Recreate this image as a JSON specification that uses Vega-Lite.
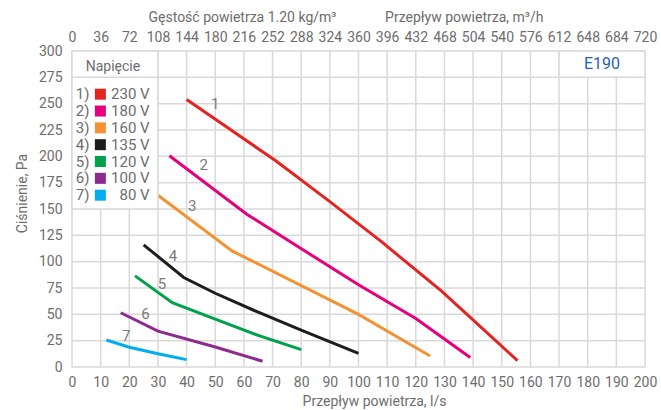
{
  "$schema": "https://vega.github.io/schema/vega-lite/v6.json",
  "width": 573,
  "height": 316,
  "autosize": "none",
  "padding": {"left": 72, "top": 51, "right": 16, "bottom": 43},
  "config": {
    "font": "Roboto",
    "view": {"stroke": "#d9d9d9", "strokeWidth": 1.5},
    "axis": {
      "domain": false,
      "grid": false,
      "ticks": false,
      "labelFont": "Roboto",
      "labelFontSize": 14,
      "labelColor": "#6d6d6d",
      "labelOverlap": false,
      "labelFlush": false,
      "titleFont": "Roboto",
      "titleFontSize": 14,
      "titleFontWeight": "normal",
      "titleColor": "#6d6d6d"
    }
  },
  "datasets": {
    "gridV": [
      {"v": 10}, {"v": 20}, {"v": 30}, {"v": 40}, {"v": 50}, {"v": 60}, {"v": 70}, {"v": 80}, {"v": 90}, {"v": 100},
      {"v": 110}, {"v": 120}, {"v": 130}, {"v": 140}, {"v": 150}, {"v": 160}, {"v": 170}, {"v": 180}, {"v": 190}
    ],
    "gridH": [
      {"p": 25}, {"p": 50}, {"p": 75}, {"p": 100}, {"p": 125}, {"p": 150}, {"p": 175}, {"p": 200}, {"p": 225}, {"p": 250}, {"p": 275}
    ],
    "curves": [
      {"s": "1", "v": 40, "p": 254}, {"s": "1", "v": 71, "p": 196}, {"s": "1", "v": 90, "p": 157}, {"s": "1", "v": 108, "p": 119}, {"s": "1", "v": 129, "p": 72}, {"s": "1", "v": 155.5, "p": 6},
      {"s": "2", "v": 34, "p": 200.5}, {"s": "2", "v": 61, "p": 145}, {"s": "2", "v": 100, "p": 78}, {"s": "2", "v": 120, "p": 46}, {"s": "2", "v": 139, "p": 9},
      {"s": "3", "v": 30, "p": 163}, {"s": "3", "v": 56, "p": 110}, {"s": "3", "v": 100, "p": 50}, {"s": "3", "v": 125, "p": 10.5},
      {"s": "4", "v": 25, "p": 116}, {"s": "4", "v": 39, "p": 85}, {"s": "4", "v": 50, "p": 70}, {"s": "4", "v": 65, "p": 52}, {"s": "4", "v": 80, "p": 35}, {"s": "4", "v": 100, "p": 13},
      {"s": "5", "v": 22, "p": 86.5}, {"s": "5", "v": 35, "p": 61}, {"s": "5", "v": 50, "p": 45.5}, {"s": "5", "v": 65, "p": 30}, {"s": "5", "v": 80, "p": 16.5},
      {"s": "6", "v": 17, "p": 51.5}, {"s": "6", "v": 30, "p": 34}, {"s": "6", "v": 50, "p": 19}, {"s": "6", "v": 66.5, "p": 5.5},
      {"s": "7", "v": 12, "p": 25.6}, {"s": "7", "v": 20, "p": 18.8}, {"s": "7", "v": 30, "p": 12.5}, {"s": "7", "v": 40, "p": 7}
    ],
    "curveLabels": [
      {"s": "1", "v": 50, "p": 250},
      {"s": "2", "v": 46, "p": 191.5},
      {"s": "3", "v": 42, "p": 153},
      {"s": "4", "v": 35.2, "p": 105.5},
      {"s": "5", "v": 31.4, "p": 79},
      {"s": "6", "v": 25.6, "p": 50.5},
      {"s": "7", "v": 18.9, "p": 29.7}
    ],
    "series": [
      {"s": "1", "num": "1)", "volt": "230 V"},
      {"s": "2", "num": "2)", "volt": "180 V"},
      {"s": "3", "num": "3)", "volt": "160 V"},
      {"s": "4", "num": "4)", "volt": "135 V"},
      {"s": "5", "num": "5)", "volt": "120 V"},
      {"s": "6", "num": "6)", "volt": "100 V"},
      {"s": "7", "num": "7)", "volt": "80 V"}
    ]
  },
  "layer": [
    {
      "data": {"name": "gridV"},
      "mark": {"type": "rule", "color": "#d9d9d9", "strokeWidth": 1.5},
      "encoding": {
        "x": {"field": "v", "type": "quantitative", "axis": null},
        "y": {"datum": 0, "type": "quantitative", "axis": null},
        "y2": {"datum": 300}
      }
    },
    {
      "data": {"name": "gridH"},
      "mark": {"type": "rule", "color": "#d9d9d9", "strokeWidth": 1.5},
      "encoding": {
        "y": {"field": "p", "type": "quantitative", "axis": null},
        "x": {"datum": 0, "type": "quantitative", "axis": null},
        "x2": {"datum": 200}
      }
    },
    {
      "data": {"name": "curves"},
      "transform": [{"filter": "datum.s == '1'"}],
      "mark": {"type": "line", "strokeWidth": 3, "strokeCap": "butt", "color": "#e52421"},
      "encoding": {
        "x": {
          "field": "v", "type": "quantitative",
          "scale": {"domain": [0, 200], "nice": false},
          "axis": {
            "orient": "bottom",
            "values": [0, 10, 20, 30, 40, 50, 60, 70, 80, 90, 100, 110, 120, 130, 140, 150, 160, 170, 180, 190, 200],
            "labelPadding": 8,
            "title": "Przepływ powietrza, l/s",
            "titleX": 302,
            "titleY": 34,
            "titleAlign": "center",
            "titleBaseline": "middle"
          }
        },
        "y": {
          "field": "p", "type": "quantitative",
          "scale": {"domain": [0, 300], "nice": false},
          "axis": {
            "values": [0, 25, 50, 75, 100, 125, 150, 175, 200, 225, 250, 275, 300],
            "labelPadding": 10,
            "title": "Ciśnienie, Pa",
            "titleX": -50,
            "titleY": 142,
            "titleAlign": "center",
            "titleBaseline": "middle"
          }
        },
        "order": {"field": "v", "type": "quantitative"}
      }
    },
    {
      "data": {"name": "curves"},
      "transform": [{"filter": "datum.s == '2'"}],
      "mark": {"type": "line", "strokeWidth": 3, "strokeCap": "butt", "color": "#e6007e"},
      "encoding": {
        "x": {"field": "v", "type": "quantitative", "axis": null},
        "y": {"field": "p", "type": "quantitative", "axis": null},
        "order": {"field": "v", "type": "quantitative"}
      }
    },
    {
      "data": {"name": "curves"},
      "transform": [{"filter": "datum.s == '3'"}],
      "mark": {"type": "line", "strokeWidth": 3, "strokeCap": "butt", "color": "#f39233"},
      "encoding": {
        "x": {"field": "v", "type": "quantitative", "axis": null},
        "y": {"field": "p", "type": "quantitative", "axis": null},
        "order": {"field": "v", "type": "quantitative"}
      }
    },
    {
      "data": {"name": "curves"},
      "transform": [{"filter": "datum.s == '4'"}],
      "mark": {"type": "line", "strokeWidth": 3, "strokeCap": "butt", "color": "#1d1d1b"},
      "encoding": {
        "x": {"field": "v", "type": "quantitative", "axis": null},
        "y": {"field": "p", "type": "quantitative", "axis": null},
        "order": {"field": "v", "type": "quantitative"}
      }
    },
    {
      "data": {"name": "curves"},
      "transform": [{"filter": "datum.s == '5'"}],
      "mark": {"type": "line", "strokeWidth": 3, "strokeCap": "butt", "color": "#00a14b"},
      "encoding": {
        "x": {"field": "v", "type": "quantitative", "axis": null},
        "y": {"field": "p", "type": "quantitative", "axis": null},
        "order": {"field": "v", "type": "quantitative"}
      }
    },
    {
      "data": {"name": "curves"},
      "transform": [{"filter": "datum.s == '6'"}],
      "mark": {"type": "line", "strokeWidth": 3, "strokeCap": "butt", "color": "#8c2a8e"},
      "encoding": {
        "x": {"field": "v", "type": "quantitative", "axis": null},
        "y": {"field": "p", "type": "quantitative", "axis": null},
        "order": {"field": "v", "type": "quantitative"}
      }
    },
    {
      "data": {"name": "curves"},
      "transform": [{"filter": "datum.s == '7'"}],
      "mark": {"type": "line", "strokeWidth": 3, "strokeCap": "butt", "color": "#00aeef"},
      "encoding": {
        "x": {"field": "v", "type": "quantitative", "axis": null},
        "y": {"field": "p", "type": "quantitative", "axis": null},
        "order": {"field": "v", "type": "quantitative"}
      }
    },
    {
      "data": {"name": "curveLabels"},
      "mark": {"type": "text", "fontSize": 15, "color": "#7a7a7a", "font": "Roboto"},
      "encoding": {
        "x": {
          "field": "v", "type": "quantitative",
          "axis": {
            "orient": "top",
            "values": [0, 10, 20, 30, 40, 50, 60, 70, 80, 90, 100, 110, 120, 130, 140, 150, 160, 170, 180, 190, 200],
            "labelExpr": "round(datum.value * 3.6)",
            "labelPadding": 7,
            "title": "Gęstość powietrza 1.20 kg/m³\u00a0\u00a0\u00a0\u00a0\u00a0\u00a0\u00a0\u00a0\u00a0\u00a0\u00a0\u00a0\u00a0\u00a0Przepływ powietrza, m³/h",
            "titleX": 76,
            "titleY": -34,
            "titleAlign": "left",
            "titleBaseline": "middle"
          }
        },
        "y": {"field": "p", "type": "quantitative", "axis": null},
        "text": {"field": "s"}
      }
    },
    {
      "data": {"values": [{}]},
      "mark": {"type": "rect", "fill": "white", "stroke": "#d9d9d9", "strokeWidth": 1.5},
      "encoding": {
        "x": {"datum": 0, "type": "quantitative", "axis": null},
        "x2": {"datum": 30},
        "y": {"datum": 150, "type": "quantitative", "axis": null},
        "y2": {"datum": 300}
      }
    },
    {
      "data": {"values": [{}]},
      "mark": {"type": "rect", "fill": "white", "stroke": "#d9d9d9", "strokeWidth": 1.5},
      "encoding": {
        "x": {"datum": 170, "type": "quantitative", "axis": null},
        "x2": {"datum": 200},
        "y": {"datum": 275, "type": "quantitative", "axis": null},
        "y2": {"datum": 300}
      }
    },
    {
      "data": {"values": [{}]},
      "mark": {"type": "rule", "color": "#d9d9d9", "strokeWidth": 1.5},
      "encoding": {
        "x": {"datum": 0, "type": "quantitative", "axis": null},
        "x2": {"datum": 30},
        "y": {"datum": 275, "type": "quantitative", "axis": null}
      }
    },
    {
      "data": {"values": [{}]},
      "mark": {"type": "text", "fontSize": 16, "color": "#2a62ad", "font": "Roboto"},
      "encoding": {
        "x": {"datum": 185, "type": "quantitative", "axis": null},
        "y": {"datum": 288, "type": "quantitative", "axis": null},
        "text": {"value": "E190"}
      }
    },
    {
      "data": {"values": [{}]},
      "mark": {"type": "text", "fontSize": 14, "color": "#6d6d6d", "font": "Roboto"},
      "encoding": {
        "x": {"datum": 14.3, "type": "quantitative", "axis": null},
        "y": {"datum": 285, "type": "quantitative", "axis": null},
        "text": {"value": "Napięcie"}
      }
    },
    {
      "data": {"name": "series"},
      "mark": {"type": "square", "size": 121, "opacity": 1},
      "encoding": {
        "x": {"datum": 9.9, "type": "quantitative", "axis": null},
        "y": {"datum": 259, "type": "quantitative", "axis": null},
        "yOffset": {"field": "s", "type": "ordinal", "scale": {"type": "point", "range": [0, 101], "padding": 0}},
        "fill": {"field": "s", "type": "nominal", "scale": {"domain": ["1", "2", "3", "4", "5", "6", "7"], "range": ["#e52421", "#e6007e", "#f39233", "#1d1d1b", "#00a14b", "#8c2a8e", "#00aeef"]}, "legend": null}
      }
    },
    {
      "data": {"name": "series"},
      "mark": {"type": "text", "fontSize": 15, "color": "#6d6d6d", "align": "left", "font": "Roboto"},
      "encoding": {
        "x": {"datum": 1.3, "type": "quantitative", "axis": null},
        "y": {"datum": 259, "type": "quantitative", "axis": null},
        "yOffset": {"field": "s", "type": "ordinal", "scale": {"type": "point", "range": [0, 101], "padding": 0}},
        "text": {"field": "num"}
      }
    },
    {
      "data": {"name": "series"},
      "mark": {"type": "text", "fontSize": 15, "color": "#6d6d6d", "align": "right", "font": "Roboto"},
      "encoding": {
        "x": {"datum": 27.1, "type": "quantitative", "axis": null},
        "y": {"datum": 259, "type": "quantitative", "axis": null},
        "yOffset": {"field": "s", "type": "ordinal", "scale": {"type": "point", "range": [0, 101], "padding": 0}},
        "text": {"field": "volt"}
      }
    }
  ],
  "resolve": {"axis": {"x": "independent", "y": "independent"}}
}
